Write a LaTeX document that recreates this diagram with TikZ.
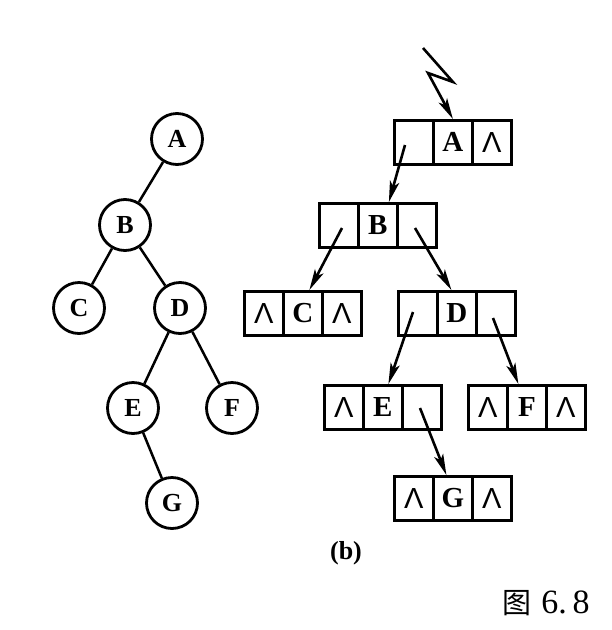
\documentclass[tikz,border=0pt]{standalone}
\usepackage{fontspec}
\setmainfont{Liberation Serif}
\newfontfamily\cjk{Noto Sans CJK SC}
\newfontfamily\nilfont{Liberation Sans}
\usetikzlibrary{arrows.meta,calc}

% one linked-list node: three cells side by side (name, left x, top y, left, data, right)
\newcommand\lnode[6]{%
  \node[cell] (#1-l) at (#2,#3) {#4};
  \node[cell] (#1-m) at (#2+39,#3) {#5};
  \node[cell] (#1-r) at (#2+78,#3) {#6};}
\newcommand\nil{{\nilfont\mdseries\fontsize{29}{29}\selectfont Λ}}

\begin{document}
\begin{tikzpicture}[x=1pt,y=-1pt,
  vertex/.style={circle,draw,line width=2.8pt,minimum size=51pt,inner sep=0pt,
    font=\fontsize{26}{26}\selectfont\bfseries},
  cell/.style={draw,line width=2.8pt,minimum width=39pt,minimum height=44pt,
    inner sep=0pt,anchor=north west,font=\fontsize{29}{29}\selectfont\bfseries},
  branch/.style={line width=2.5pt},
  ptr/.style={line width=2.6pt,-{Stealth[length=21pt,width=9.5pt,inset=5pt]}}]

\useasboundingbox (0,0) rectangle (612,630);

% binary tree
\node[vertex] (A) at (177,139) {A};
\node[vertex] (B) at (125,225) {B};
\node[vertex] (C) at (79,308) {C};
\node[vertex] (D) at (180,308) {D};
\node[vertex] (E) at (133,408) {E};
\node[vertex] (F) at (232,408) {F};
\node[vertex] (G) at (172,503) {G};
\draw[branch] (A) -- (B);
\draw[branch] (B) -- (C);
\draw[branch] (B) -- (D);
\draw[branch] (D) -- (E);
\draw[branch] (D) -- (F);
\draw[branch] (E) -- (G);

% binary linked list
\lnode{LA}{393}{119}{}{A}{\nil}
\lnode{LB}{318}{202}{}{B}{}
\lnode{LC}{243}{290}{\nil}{C}{\nil}
\lnode{LD}{397}{290}{}{D}{}
\lnode{LE}{323}{384}{\nil}{E}{}
\lnode{LF}{467}{384}{\nil}{F}{\nil}
\lnode{LG}{393}{475}{\nil}{G}{\nil}

% root pointer
\coordinate (z0) at (423,48);
\coordinate (z1) at (453,82);
\coordinate (z2) at (428,73);
\draw[ptr,line join=miter] (z0) -- (z1) -- (z2) -- (LA-m.north);

% child pointers
\coordinate (pA) at (405,145);
\coordinate (pBl) at (342,228);
\coordinate (pBr) at (415,228);
\coordinate (pDl) at (413,312);
\coordinate (pDr) at (493,318);
\coordinate (pEr) at (420,408);
\draw[ptr] (pA) -- ($(LB-m.north)+(11,0)$);
\draw[ptr] (pBl) -- ($(LC-m.north)+(6.5,0)$);
\draw[ptr] (pBr) -- ($(LD-m.north)+(-5.5,0)$);
\draw[ptr] (pDl) -- ($(LE-m.north)+(5.5,0)$);
\draw[ptr] (pDr) -- ($(LF-m.north)+(-8.5,0)$);
\draw[ptr] (pEr) -- ($(LG-m.north)+(-6.5,0)$);

% captions
\node[font=\fontsize{26}{26}\selectfont\bfseries] (sub) at (346,553) {(b)};
\node[font=\fontsize{34}{34}\selectfont] (fig) at (546,603)
  {{\cjk\fontsize{29}{29}\selectfont 图}\hspace{10pt}6.\hspace{6pt}8};
\end{tikzpicture}
\end{document}
